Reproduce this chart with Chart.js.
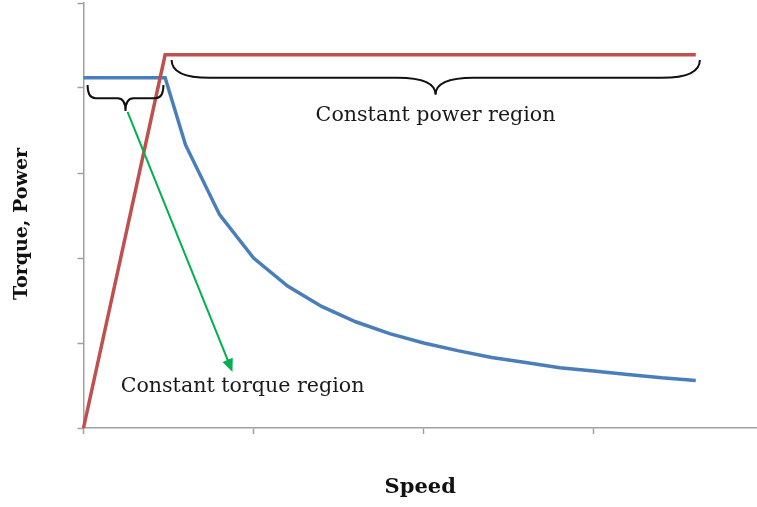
<!DOCTYPE html>
<html>
<head>
<meta charset="utf-8">
<script src="https://cdn.jsdelivr.net/npm/chart.js@4.4.0/dist/chart.umd.min.js"></script>
<style>
  html, body { margin: 0; padding: 0; background: #fff; overflow: hidden; }
  canvas { display: block; }
</style>
</head>
<body>
<canvas id="chart" width="757" height="507"></canvas>
<script>
// values (arbitrary units, no tick labels shown)
var powerSpeed = [0, 0.48, 3.6];
var powerValues = [0, 4.39, 4.39];
var torqueSpeed = [0, 0.48, 0.6, 0.8, 1.0, 1.2, 1.4, 1.6, 1.8, 2.0, 2.2, 2.4, 2.6, 2.8, 3.0, 3.2, 3.4, 3.6];
var torqueValues = [4.12, 4.12, 3.33, 2.51, 2.0, 1.67, 1.43, 1.25, 1.11, 1.0, 0.91, 0.83, 0.77, 0.71, 0.67, 0.63, 0.59, 0.56];
var xTicks = [0, 1, 2, 3];
var yTicks = [0, 1, 2, 3, 4, 5];

var serif = "'DejaVu Serif', 'Liberation Serif', serif";
var axisGray = "#a0a0a0";

function points(xs, ys) {
  return xs.map(function(x, i) { return {x: x, y: ys[i]}; });
}

// curly brace opening upwards, tip pointing down
function brace(ctx, x1, x2, xm, top, bar, tip, r) {
  ctx.beginPath();
  ctx.moveTo(x1, top);
  ctx.quadraticCurveTo(x1, bar, x1 + r, bar);
  ctx.lineTo(xm - r, bar);
  ctx.quadraticCurveTo(xm, bar, xm, tip);
  ctx.quadraticCurveTo(xm, bar, xm + r, bar);
  ctx.lineTo(x2 - r, bar);
  ctx.quadraticCurveTo(x2, bar, x2, top);
  ctx.stroke();
}

// braces, arrow, region labels and axis titles
var annotations = {
  id: "annotations",
  afterDatasetsDraw: function(chart) {
    var ctx = chart.ctx;
    var X = function(v) { return chart.scales.x.getPixelForValue(v); };
    var Y = function(v) { return chart.scales.y.getPixelForValue(v); };
    ctx.save();
    ctx.strokeStyle = "#111";
    ctx.lineWidth = 2;
    brace(ctx, X(0.024), X(0.47), X(0.247), Y(4.035), Y(3.88), Y(3.73), 8);
    brace(ctx, X(0.518), X(3.624), X(2.07), Y(4.33), Y(4.12), Y(3.92), 38);

    // green arrow
    var ax = X(0.259), ay = Y(3.72), bx = X(0.876), by = Y(0.66);
    var ang = Math.atan2(by - ay, bx - ax);
    ctx.strokeStyle = "#00b050";
    ctx.fillStyle = "#00b050";
    ctx.lineWidth = 2;
    ctx.beginPath();
    ctx.moveTo(ax, ay);
    ctx.lineTo(bx - 10 * Math.cos(ang), by - 10 * Math.sin(ang));
    ctx.stroke();
    ctx.beginPath();
    ctx.moveTo(bx, by);
    ctx.lineTo(bx - 13 * Math.cos(ang) + 5.5 * Math.sin(ang), by - 13 * Math.sin(ang) - 5.5 * Math.cos(ang));
    ctx.lineTo(bx - 13 * Math.cos(ang) - 5.5 * Math.sin(ang), by - 13 * Math.sin(ang) + 5.5 * Math.cos(ang));
    ctx.closePath();
    ctx.fill();

    ctx.fillStyle = "#1a1a1a";
    ctx.font = "20.6px " + serif;
    ctx.textAlign = "center";
    ctx.textBaseline = "middle";
    ctx.fillText("Constant power region", X(2.07), Y(3.67));
    ctx.fillText("Constant torque region", X(0.935), Y(0.49));

    // axis titles
    ctx.fillStyle = "#111";
    ctx.font = "bold 21px " + serif;
    ctx.fillText("Speed", X(1.98), 488);
    ctx.translate(22, Y(2.4));
    ctx.rotate(-Math.PI / 2);
    ctx.font = "bold 19px " + serif;
    ctx.fillText("Torque, Power", 0, 0);
    ctx.restore();
  }
};

var chart = new Chart(document.getElementById("chart"), {
  type: "scatter",
  data: {
    datasets: [
      {
        label: "Power",
        data: points(powerSpeed, powerValues),
        showLine: true,
        borderColor: "#c0504d",
        borderWidth: 3.5,
        pointRadius: 0,
        tension: 0,
        clip: false
      },
      {
        label: "Torque",
        data: points(torqueSpeed, torqueValues),
        showLine: true,
        borderColor: "#4a7ebb",
        borderWidth: 3.5,
        pointRadius: 0,
        tension: 0,
        clip: false
      }
    ]
  },
  plugins: [annotations],
  options: {
    responsive: false,
    animation: false,
    events: [],
    layout: { padding: { top: 3, left: 0, right: 0, bottom: 0 } },
    plugins: { legend: { display: false }, tooltip: { enabled: false } },
    scales: {
      x: {
        type: "linear",
        min: 0,
        max: 3.96,
        afterBuildTicks: function(s) { s.ticks = xTicks.map(function(v) { return {value: v}; }); },
        afterFit: function(s) { s.height = 79; },
        ticks: { display: false, includeBounds: false },
        grid: { color: "transparent", tickColor: axisGray, tickLength: 6, tickWidth: 1.5 },
        border: { color: axisGray, width: 1.5 }
      },
      y: {
        type: "linear",
        min: 0,
        max: 5,
        afterBuildTicks: function(s) { s.ticks = yTicks.map(function(v) { return {value: v}; }); },
        afterFit: function(s) { s.width = 83.5; },
        ticks: { display: false },
        grid: { color: "transparent", tickColor: axisGray, tickLength: 6, tickWidth: 1.5 },
        border: { color: axisGray, width: 1.5 }
      }
    }
  }
});
</script>
</body>
</html>
